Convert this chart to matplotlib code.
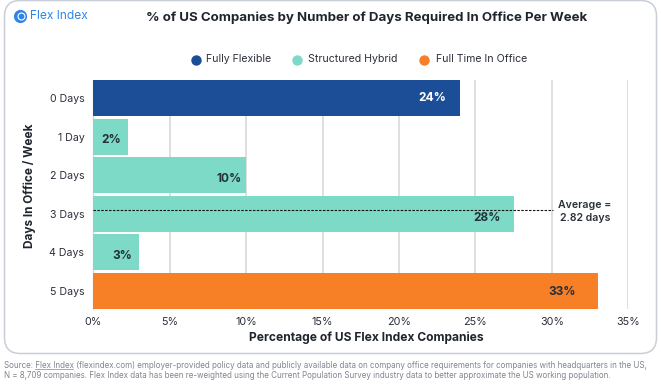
import matplotlib
matplotlib.use('Agg')
import matplotlib.pyplot as plt
from matplotlib.lines import Line2D
from matplotlib.patches import FancyBboxPatch

plt.rcParams['font.family'] = ['Inter', 'DejaVu Sans']

# Datos
dias = ['0 Days', '1 Day', '2 Days', '3 Days', '4 Days', '5 Days']
valores = [24.0, 2.25, 10.0, 27.55, 3.0, 33.0]
etiquetas = ['24%', '2%', '10%', '28%', '3%', '33%']
grupos = ['Fully Flexible', 'Structured Hybrid', 'Structured Hybrid',
          'Structured Hybrid', 'Structured Hybrid', 'Full Time In Office']
colores = {'Fully Flexible': '#1c4e98', 'Structured Hybrid': '#7cdac6',
           'Full Time In Office': '#f77f26'}
ticks_x = [0, 5, 10, 15, 20, 25, 30, 35]
promedio_y = 2.89
promedio_fin = 30.05

W, H = 661, 385
fig = plt.figure(figsize=(W / 100, H / 100), dpi=100, facecolor='white')

# Tarjeta de fondo
tarjeta = FancyBboxPatch((4.5 / W, (H - 353.5) / H), 652 / W, 353 / H,
                         boxstyle='round,pad=0,rounding_size=0.024',
                         transform=fig.transFigure, fc='white', ec='#c9ced8', lw=1.1,
                         mutation_aspect=W / H, zorder=-1)
fig.add_artist(tarjeta)

ax = fig.add_axes([93.3 / W, (H - 309) / H, 535 / W, 229 / H])
ax.patch.set_alpha(0)
ax.barh(dias, valores, height=0.93, color=[colores[g] for g in grupos], zorder=2)
ax.set_ylim(5.465, -0.465)
ax.set_xlim(0, 35)
ax.set_xticks(ticks_x)
ax.set_xticklabels([f'{t}%' for t in ticks_x])
ax.grid(axis='x', color='#d9d9d9', lw=1.2, zorder=0)
ax.tick_params(axis='x', length=0, labelsize=7.8, labelcolor='#2b2f3a', pad=5.5)
ax.tick_params(axis='y', length=0, labelsize=7.6, labelcolor='#2b2f3a', pad=6.5)
for s in ax.spines.values():
    s.set_visible(False)
ax.spines['left'].set_visible(True)
ax.spines['left'].set_color('#cfd2d6')
ax.spines['left'].set_linewidth(0.9)
ax.spines['left'].set_zorder(1)

# Etiquetas de las barras
posiciones = [23.07, 1.81, 9.73, 26.67, 2.53, 31.57]
filas = [0, 1.08, 2.1, 3.12, 4.08, 5.03]
for i, e in enumerate(etiquetas):
    col = 'white' if i == 0 else '#26303c'
    ax.text(posiciones[i], filas[i], e, ha='right', va='center', fontsize=8.6,
            fontweight='bold', color=col, zorder=4)

# Linea del promedio
ax.plot([0, promedio_fin], [promedio_y, promedio_y], color='#111111', lw=0.8,
        ls=(0, (2.2, 1.3)), zorder=3)
ax.text(32.15, 2.95, 'Average =\n2.82 days', ha='center', va='center', fontsize=7.6,
        fontweight='semibold', color='#2b2f3a', linespacing=1.35, zorder=4)

# Titulos de los ejes
fig.text(366 / W, (H - 338) / H, 'Percentage of US Flex Index Companies', ha='center',
         va='center', fontsize=8.65, fontweight='bold', color='#20242e')
fig.text(29 / W, (H - 186) / H, 'Days In Office / Week', rotation=90, ha='center',
         va='center', fontsize=8.5, fontweight='bold', color='#20242e')

# Titulo
fig.text(367 / W, (H - 17.5) / H, '% of US Companies by Number of Days Required In Office Per Week',
         ha='center', va='center', fontsize=9.55, fontweight='bold', color='#20242e')

# Logo
fig.add_artist(Line2D([20 / W], [(H - 16) / H], marker='o', ms=9.5, color='#2f86e8',
                      transform=fig.transFigure, ls='none', mew=0))
fig.add_artist(Line2D([20.5 / W], [(H - 16) / H], marker='o', ms=5, mfc='none', mec='white',
                      mew=0.8, transform=fig.transFigure, ls='none'))
fig.text(30 / W, (H - 16) / H, 'Flex Index', ha='left', va='center', fontsize=8.6,
         color='#2f86e8')

# Leyenda
nombres = list(colores)
xs_marca = [195.5, 297, 424]
xs_texto = [206, 308, 436]
for n, xm, xt in zip(nombres, xs_marca, xs_texto):
    fig.add_artist(Line2D([xm / W], [(H - 59.5) / H], marker='o', ms=7.5, color=colores[n],
                          transform=fig.transFigure, ls='none', mew=0))
    fig.text(xt / W, (H - 59.5) / H, n, ha='left', va='center', fontsize=7.6, color='#2b2f3a')

# Nota al pie
fig.text(4 / W, (H - 365) / H,
         'Source: Flex Index (flexindex.com) employer-provided policy data and publicly available data on company office requirements for companies with headquarters in the US,',
         ha='left', va='center', fontsize=5.75, color='#80858f')
fig.text(4 / W, (H - 376) / H,
         'N = 8,709 companies. Flex Index data has been re-weighted using the Current Population Survey industry data to better approximate the US working population.',
         ha='left', va='center', fontsize=5.75, color='#80858f')
fig.add_artist(Line2D([35 / W, 73 / W], [(H - 368.7) / H] * 2, color='#80858f', lw=0.5,
                      transform=fig.transFigure))

fig.savefig('out.png', dpi=100)
